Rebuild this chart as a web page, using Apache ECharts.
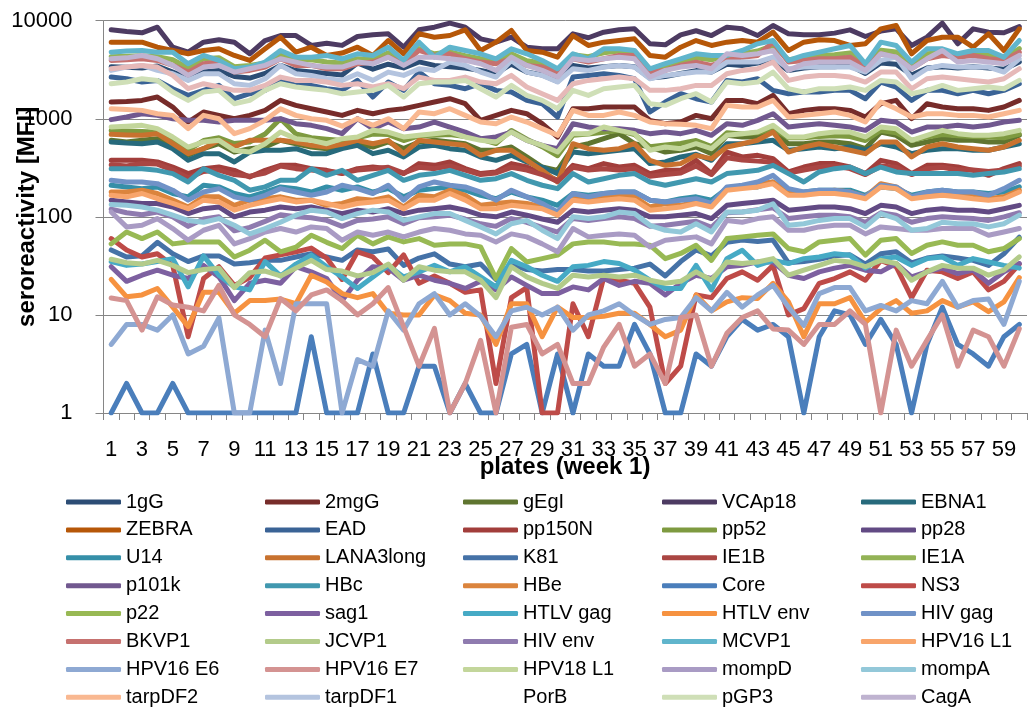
<!DOCTYPE html>
<html>
<head>
<meta charset="utf-8">
<script src="https://cdn.jsdelivr.net/npm/echarts@6/dist/echarts.min.js"></script>
<style>
  html, body { margin: 0; padding: 0; background: #fff; }
  #chart { width: 1029px; height: 709px; }
</style>
</head>
<body>
<div id="chart"></div>
<script>
// plates of week 1
const plates = ["1","2","3","4","5","6","7","8","9","10","11","12","13","14","15","16","17","18","19","20",
  "21","22","23","24","25","26","27","28","29","30","31","32","33","34","35","36","37","38","39","40",
  "41","42","43","44","45","46","47","48","49","50","51","52","53","54","55","56","57","58","59","60"];

// seroreactivity (MFI) per plate, one array per antigen
const ag1gG = [3400,3350,3300,3450,3000,2600,3000,3100,2700,2600, 2900,3500,3100,3000,2900,2800,3700,3200,3600,3300,
  3800,3500,3400,3300,3100,2900,3600,3000,2800,2400, 3500,3300,3400,3500,3400,2600,2700,2900,3100,3000,
  3600,3500,3700,4000,3100,3300,3400,3400,3500,2900, 3700,3600,2800,3300,3400,3300,3400,3300,3200,3800];
const ag2mgG = [1481,1500,1540,1666,1317,927,1172,1083,1002,1083, 1218,1540,1370,1267,1172,1083,1218,1127,1218,1267,
  1370,1481,1602,1424,964,1083,1218,1127,891,652, 1267,1267,1317,1317,1317,964,891,927,1083,1002,
  1540,1540,1424,1732,1127,1218,1267,1267,1218,1042, 1424,1540,1002,1424,1317,1267,1267,1218,1317,1540];
const gEgI = [603,580,603,627,536,424,496,557,458,496, 515,603,557,515,496,515,557,515,580,496,
  580,603,580,557,477,477,515,408,322,298, 515,557,627,705,557,515,458,477,515,441,
  678,652,652,733,557,557,580,580,557,496, 733,678,536,580,627,603,603,580,580,678];
const VCAp18 = [8070,7760,7530,8590,5370,4780,6040,6380,6040,4600, 6280,7060,7060,5590,5900,5600,6900,7200,7350,5370,
  8070,8590,9440,8590,6530,6040,6790,5370,5170,5170, 7350,6700,7640,8070,8260,5810,5680,7180,7900,7060,
  8590,8260,7060,8930,7350,7180,7180,7470,8070,6900, 7830,8260,5590,6790,9440,5810,8260,7640,7530,8720];
const EBNA1 = [580,566,557,580,496,377,441,441,363,458, 477,477,496,441,441,496,536,441,477,408,
  515,536,496,477,408,377,424,363,322,276, 458,441,458,477,496,349,363,408,434,377,
  557,557,580,603,477,496,515,496,515,477, 557,515,441,477,496,496,477,477,515,557];
const ZEBRA = [6040,6040,6040,5370,4970,4600,4970,5170,4420,3935, 5170,6790,4780,5370,4420,4680,5370,4420,6280,4600,
  7350,6790,7060,8070,4970,6040,7950,4970,4780,4250, 7060,5590,6040,6280,6530,4420,4250,5370,6280,5590,
  6040,6280,6040,7640,4970,6040,6380,6280,5590,5810, 8260,8930,4600,6280,6790,6790,5370,7350,4970,8260];
const EAD = [2662,2560,2368,2462,2025,1732,1948,2190,1602,1801, 1948,2462,2190,2190,2025,1948,2462,1666,2368,1948,
  2993,2277,2190,2025,2277,1948,1873,1540,1424,1042, 2662,2768,2878,2768,2560,1172,1481,1801,1602,1481,
  2462,2368,2560,1948,1801,1873,1873,1948,1948,1602, 2368,2106,1540,1948,1948,1801,1948,1801,1948,2277];
const pp150N = [377,377,377,363,322,276,310,322,298,255, 298,335,335,310,298,276,310,322,310,276,
  349,335,363,310,276,287,349,322,276,236, 335,310,349,322,335,276,298,298,377,276,
  458,408,424,392,287,322,349,349,322,276, 377,349,276,335,335,322,298,265,310,349];
const pp52 = [760,750,740,730,610,480,600,640,560,580, 700,1000,700,640,620,600,640,700,690,600,
  670,680,690,660,620,560,760,620,520,420, 680,700,730,760,690,520,540,560,600,520,
  720,700,720,800,640,640,660,670,660,600, 760,720,600,650,690,670,660,650,640,700];
const pp28 = [148,142,137,137,126,108,121,126,100,112, 117,126,121,126,117,108,117,112,121,108,
  117,121,126,117,104,100,112,104,95,88, 117,112,117,121,117,100,100,104,108,96,
  131,137,142,148,117,121,126,126,121,108, 131,126,108,117,121,117,117,112,121,131];
const U14 = [210,202,194,202,173,160,210,202,173,160, 179,202,194,179,202,187,202,179,194,160,
  187,194,202,187,166,153,179,160,148,131, 173,166,173,179,179,148,142,153,160,148,
  194,202,202,227,173,179,187,187,187,166, 202,194,166,179,187,179,179,173,179,202];
const LANA3long = [694,685,678,705,557,441,496,603,515,603, 603,603,580,536,515,548,603,557,603,441,
  603,580,557,536,424,477,477,377,298,227, 557,496,477,496,557,377,335,349,424,392,
  515,557,603,733,458,515,557,515,477,441, 580,580,408,515,557,515,496,477,515,603];
const K81 = [46,39,40,55,42,35,40,40,33,34, 36,36,39,42,39,36,46,44,47,32,
  38,42,33,31,33,23,33,29,28,29, 29,28,28,29,30,33,25,35,46,40,
  55,58,56,58,34,35,37,40,41,33, 42,44,34,38,40,38,36,32,42,62];
const IE1B = [340,330,350,345,300,250,290,300,270,260, 280,330,310,300,290,280,300,310,320,280,
  320,310,330,300,270,280,320,300,270,230, 320,300,310,300,310,260,270,280,330,270,
  400,380,370,360,280,300,320,330,310,270, 330,320,270,310,320,300,300,290,300,330];
const IE1A = [4300,4350,4400,4300,4000,3300,4100,4200,3400,3500, 3700,4500,3900,4000,3800,3700,4100,4000,4700,3600,
  5200,4600,4800,4400,4100,3800,4600,3900,3700,3100, 4500,4300,4700,4900,4800,3200,3300,3800,4200,4000,
  4400,4600,4900,5600,4000,4200,4400,4500,4700,3500, 5000,4800,3600,4600,4700,4400,4600,4500,4100,5200];
const p101k = [980,1042,1127,1083,1002,964,964,927,964,964, 964,1002,891,857,793,705,1002,793,927,793,
  824,927,824,733,627,652,733,603,536,496, 891,824,793,793,762,705,733,705,762,678,
  891,857,964,1127,824,857,891,857,824,762, 964,927,733,824,824,857,824,857,927,964];
const HBc = [310,310,310,298,276,227,310,265,236,187, 202,236,236,310,265,298,236,265,298,236,
  265,276,298,265,236,245,276,236,210,194, 276,227,245,265,276,227,210,227,245,227,
  276,287,298,335,276,227,287,310,322,276, 322,287,276,276,276,276,265,276,287,310];
const HBe = [179,179,187,173,148,126,160,160,131,148, 153,160,148,148,131,137,153,148,160,126,
  166,160,187,166,131,137,142,137,126,108, 166,148,160,166,160,126,137,131,142,131,
  194,202,218,227,173,173,179,187,179,160, 218,202,160,166,173,166,160,153,160,187];
const Core = [1,2,1,1,2,1,1,1,1,1, 1,1,1,6,1,1,1,4,1,1,
  3,3,1,2,1,1,4,5,1,4, 1,4,3,3,8,4,1,1,4,3,
  6,9,7,8,6,1,6,11,10,5, 9,5,1,5,12,5,4,3,6,8];
const NS3 = [60,46,39,42,32,6,23.5,31,20,24, 38,41,44,48,38,23,44,39,27,41,
  21,25,21,17,18,2,15,19,1,1, 13,6,24,22.6,21,12,2,3,16,15,
  23.5,27.5,22.6,32,10,11.6,21,23.5,27.5,22.6, 36,31,15,28.6,27.5,23.5,27.5,18,22,33];
const p22 = [53,70,60,70,53,55.5,55.5,55.5,39,45.7, 57.8,44,49,65,55,47.5,65,53,62.5,55.5,
  60,51.4,53,53,49.4,23.5,47.5,34.7,37.5,40.7, 53,55.5,55.5,53,53,51.4,37.5,42.3,51.4,36,
  60,62.5,65,67,47.5,44,55.5,57.8,60,40.7, 57.8,60,42.3,51.4,55.5,51.4,51.4,44,47.5,60];
const sag1 = [31,22,25.4,28.6,25.4,23.5,32,24.4,14,21, 22.6,21,31,27.5,23.5,14,22.6,31,30,22.6,
  25.4,22.6,21,18.6,22,18,24.4,20,16.5,16.5, 19.3,18,23.5,20,22,21,16,21,25.4,23.5,
  31,32,34.7,34.7,25.4,23.5,27.5,30,32,28.6, 27.5,33.4,24.4,27.5,30,26.4,28.6,21,27.5,33.4];
const HTLVgag = [35,32,33,35,37.5,19.3,40,25.4,19.3,18, 35,25,33,40.7,31,24.4,18.6,24.4,32,24.4,
  27.5,32,27.5,31,24.4,19.3,36,31,25.4,22, 31,32,35,33.4,28.6,22.6,18.6,18.6,32,18,
  37.5,45.7,32,36,33.4,37.5,39,42,40.6,30, 37.5,39,32,37.5,39,32,37.5,34.7,32,30];
const HTLVenv = [23,15.3,16,18.6,12,7.6,17,17,10.4,14, 14,14.5,13,25.4,21.7,16.5,15,16.5,10.4,10,
  10,16,14,10.4,10,5,13,13,6,12, 9.4,9.4,9.7,10.4,10.4,8,6,7,16,11,
  13.6,15,14.7,21,13.6,6,13,13,15,8.4, 11.6,14,10.4,11,14,12,13.6,10.8,13.6,24];
const HIVgag = [236,227,227,218,187,148,179,194,160,148, 166,194,179,166,179,210,194,173,210,148,
  202,227,210,202,179,148,187,160,137,112, 173,160,173,179,179,148,142,148,153,137,
  202,210,227,265,194,179,187,187,179,160, 210,202,160,179,187,179,179,166,194,236];
const BKVP1 = [3935,3990,4090,3935,3500,2993,3640,3785,2993,3113, 3365,4090,3500,3500,3236,3236,3640,3785,4250,3640,
  4970,4420,4600,4090,3785,3640,4090,3500,3365,2993, 4090,3785,4090,4420,4420,2993,3113,3500,3785,3500,
  3935,4250,4420,6040,3785,3935,4090,4090,4250,3365, 4600,4250,3236,4090,4420,4250,4420,4090,3935,4780];
const JCVP1 = [37,34,33,36,32,27,29,30,19,27, 28,25,30,36,29,28,25,27,33,22.6,
  31,28.6,27.5,27.5,22.6,15,31,24.4,21,18.6, 25.4,24.4,25.4,24.4,25.4,22.6,21,22,27.5,22.6,
  34.7,33.4,34.7,37.5,25.4,28.6,32,36,34.7,31, 36,33.4,22.6,27.5,32,30,30,25.4,28.6,39];
const HIVenv = [120,110,105,112,100,80,95,100,72,78, 90,105,100,98,92,80,92,95,100,85,
  98,100,104,95,85,80,96,88,78,70, 96,92,96,100,96,80,82,86,90,78,
  110,112,118,124,96,100,104,104,100,88, 110,104,88,96,100,98,96,92,100,110];
const MCVP1 = [4780,4900,4970,4780,4780,3640,4420,3935,3236,3365, 3785,4970,4250,4250,4420,4090,4600,4420,5370,3935,
  6040,4250,5370,4970,4600,4090,5170,4600,3935,3236, 4600,4090,5170,5170,4970,3236,3640,4090,4600,4420,
  4420,4970,5810,6280,3935,4420,4780,5170,5590,3640, 6040,5590,3785,5170,5170,4600,4970,4970,4250,6280];
const HPV16L1 = [166,160,173,153,137,121,148,142,117,131, 142,153,142,148,137,126,137,142,148,121,
  148,148,173,148,121,121,131,126,121,104, 148,142,148,153,148,117,121,126,137,126,
  187,194,202,218,166,166,173,173,166,153, 202,194,153,160,166,160,153,148,153,179];
const HPV16E6 = [5,8,8,7,10,4,4.8,9.3,1,1, 7,2,13,13,13,1,3.5,3,11,7,
  13,16.5,10,13,9.7,6,11,12,10,12, 7,10,11,13,10,8,9,9.4,15,11,
  17,12,16,20,12,7.8,16.5,19,19,11, 12.5,11,14,13,22,12,14,14.5,8,22];
const HPV16E7 = [14.9,14,7,15.3,12.6,12,11,20,10,8, 6,14.7,11,16,18,14,10,13,19,7.6,
  3,7.3,1,2,5.5,1,7.5,8,4,5, 2,2,4.7,8,3,4,2,9.4,10,3,
  6.5,9.4,11,7.2,7,5,8,8,11,8, 1,7,3,5.5,10,3,7,6,3,7.2];
const HPV18L1 = [824,840,857,793,652,515,580,603,477,458, 557,733,627,603,557,627,652,762,733,652,
  678,705,733,652,603,580,733,603,536,458, 705,705,824,762,705,477,515,496,557,496,
  678,705,733,857,652,652,705,733,733,652, 824,793,603,678,762,705,678,678,705,762];
const mompD = [112,79,82,96,76,57.8,73,82,53,60, 70,76,70,79,76,57.8,70,65,70,62.5,
  70,76,73,67,65,55.5,67,62.5,53,44, 76,62.5,65,67,65,49.4,57.8,60,62.5,53,
  92,88,96,100,73,73,79,82,82,67, 79,76,73,73,76,76,76,65,70,76];
const mompA = [134,131,126,117,104,92,88,96,82,67, 76,88,104,117,112,96,108,117,112,92,
  100,108,108,92,79,67,85,92,73,60, 100,96,100,112,108,82,73,70,85,70,
  112,112,117,136,82,85,92,96,96,79, 108,96,73,76,88,85,85,79,85,104];
const tarpDF2 = [1267,1240,1218,1127,1083,793,1083,1002,705,793, 964,1267,1083,1002,964,840,1002,857,1002,793,
  1172,1127,1267,1083,927,891,1042,927,793,678, 1218,1083,1083,1172,1083,927,891,880,857,793,
  1370,1317,1317,1540,1042,1083,1127,1172,1083,927, 1481,1267,1042,1127,1127,1083,1083,1042,1127,1218];
const tarpDF1 = [3113,3365,3500,3113,2878,2462,2878,2878,2277,2190, 2560,3500,2878,2768,2560,2462,2878,2462,2993,2768,
  3236,3113,3785,3500,2993,2662,3935,2993,2768,2368, 3236,3113,3365,3500,3365,2560,2768,2878,2993,2993,
  3785,3785,3785,4250,3236,3365,3365,3365,3365,2993, 3935,4250,2560,3236,3500,3365,3365,3365,2993,4090];
const PorB = [3236,3365,3500,3365,2768,2025,2277,2106,1948,1948, 2190,2662,2462,2462,2368,2190,2277,2106,2277,2025,
  2662,2462,2462,2662,2368,2277,2768,2106,1801,1540, 2277,2462,2560,2662,2560,1948,1948,2025,2190,2190,
  2878,3113,3236,3785,2462,2662,2768,2768,2662,2368, 2993,2993,2025,2560,2662,2560,2462,2368,2560,3236];
const pGP3 = [2277,2368,2560,2462,1873,1540,1873,1948,1424,1540, 1948,2277,2106,2025,1948,1801,1873,1948,2190,1666,
  2277,2368,2368,2462,2025,1666,2190,1732,1540,1267, 1948,1732,2025,2106,2190,1424,1370,1602,1801,1481,
  2368,2277,2368,2993,2025,1873,2025,2025,2106,1948, 2462,2368,1801,1948,2190,1948,2025,2106,2025,2462];
const CagA = [4090,4180,4420,4090,3500,2768,3365,3500,2993,3236, 3500,4090,3785,3500,3365,3365,3785,3640,4250,3500,
  4250,4250,4090,3935,3640,3113,4250,3500,3113,2662, 4090,3935,4090,4250,4090,2662,3113,3365,3500,3236,
  4600,4420,4600,4970,3113,3640,3785,3785,3785,3113, 4600,4250,3236,4090,4970,3785,3935,3785,3640,4420];

const antigenNames = ["1gG","2mgG","gEgI","VCAp18","EBNA1","ZEBRA","EAD","pp150N","pp52","pp28",
  "U14","LANA3long","K81","IE1B","IE1A","p101k","HBc","HBe","Core","NS3",
  "p22","sag1","HTLV gag","HTLV env","HIV gag","BKVP1","JCVP1","HIV env","MCVP1","HPV16 L1",
  "HPV16 E6","HPV16 E7","HPV18 L1","mompD","mompA","tarpDF2","tarpDF1","PorB","pGP3","CagA"];
const antigenValues = [ag1gG, ag2mgG, gEgI, VCAp18, EBNA1, ZEBRA, EAD, pp150N, pp52, pp28,
  U14, LANA3long, K81, IE1B, IE1A, p101k, HBc, HBe, Core, NS3,
  p22, sag1, HTLVgag, HTLVenv, HIVgag, BKVP1, JCVP1, HIVenv, MCVP1, HPV16L1,
  HPV16E6, HPV16E7, HPV18L1, mompD, mompA, tarpDF2, tarpDF1, PorB, pGP3, CagA];

const palette = ["#2C4D75","#772C2A","#5F7530","#4D3B62","#276A7C","#B65708","#3A6396","#A23E3B","#7E9A40","#624A84",
  "#358FA8","#C8722F","#4572A7","#AA4643","#93B356","#71588F","#4198AF","#DB843D","#4A7EBB","#BE4B48",
  "#98B954","#7D60A0","#46AAC5","#F69240","#7092C7","#C6716F","#B3CB8A","#8F7BAF","#60B5CC","#F8A56B",
  "#8EA9D3","#D49392","#C3D69B","#A99BC4","#93C8D9","#F9B891","#B4C4DF","#E6B9B8","#CFDFB7","#BFB3D0"];

const font = "'Liberation Sans', Arial, sans-serif";

const chart = echarts.init(document.getElementById("chart"));

const series = antigenNames.map((name, i) => ({
  name: name,
  type: "line",
  data: antigenValues[i],
  symbol: "none",
  showSymbol: false,
  animation: false,
  lineStyle: { width: 5, color: palette[i], cap: "round", join: "round" },
  itemStyle: { color: palette[i] },
  emphasis: { disabled: true }
}));

// five legend columns, filled row by row
const colLeft = [66, 265, 463, 662, 861];
const legends = colLeft.map((x, c) => ({
  orient: "vertical",
  left: x,
  top: 492,
  height: 220,
  padding: 0,
  itemWidth: 55,
  itemHeight: 5,
  itemGap: 7.9,
  icon: "roundRect",
  selectedMode: false,
  textStyle: { fontSize: 20, color: "#000", fontFamily: font, lineHeight: 20 },
  data: antigenNames.filter((n, i) => i % 5 === c).map(n =>
    n === "PorB" ? { name: n, itemStyle: { opacity: 0 } } : n)
}));

chart.setOption({
  animation: false,
  color: palette,
  grid: { left: 103.5, right: 2, top: 20.7, bottom: 296, containLabel: false, outerBoundsMode: "none" },
  legend: legends,
  // x axis title, centred under the plot area
  graphic: [{
    type: "text",
    x: 565,
    y: 467,
    style: {
      text: "plates (week 1)",
      font: "bold 24px " + font,
      fill: "#000",
      textAlign: "center",
      textVerticalAlign: "middle"
    }
  }],
  xAxis: [{
    // plotting axis: line and ticks
    type: "category",
    data: plates,
    boundaryGap: true,
    axisLine: { lineStyle: { color: "#868686", width: 1 } },
    axisTick: { show: true, interval: 0, length: 7, lineStyle: { color: "#868686" } },
    axisLabel: { show: false },
    splitLine: { show: false }
  }, {
    // same categories, shifted down to carry the plate labels
    type: "category",
    data: plates,
    boundaryGap: true,
    position: "bottom",
    offset: 18,
    axisLine: { show: true, lineStyle: { color: "rgba(0,0,0,0)" } },
    axisTick: { show: true, interval: 0, length: 7, lineStyle: { color: "rgba(0,0,0,0)" } },
    axisLabel: { interval: 1, fontSize: 22, color: "#000", fontFamily: font },
    splitLine: { show: false }
  }],
  yAxis: {
    type: "log",
    logBase: 10,
    min: 1,
    max: 10000,
    name: "seroreactivity [MFI]",
    nameLocation: "middle",
    nameGap: 64,
    nameMoveOverlap: false,
    nameTextStyle: { fontSize: 24, fontWeight: "bold", color: "#000", fontFamily: font },
    axisLine: { show: true, lineStyle: { color: "#868686", width: 1 } },
    axisTick: { show: true, length: 8, lineStyle: { color: "#868686" } },
    axisLabel: { fontSize: 22, color: "#000", margin: 31, fontFamily: font,
      formatter: v => String(Math.round(v)) },
    splitLine: { show: true, lineStyle: { color: "#868686", width: 1 } }
  },
  series: series
});
</script>
</body>
</html>
